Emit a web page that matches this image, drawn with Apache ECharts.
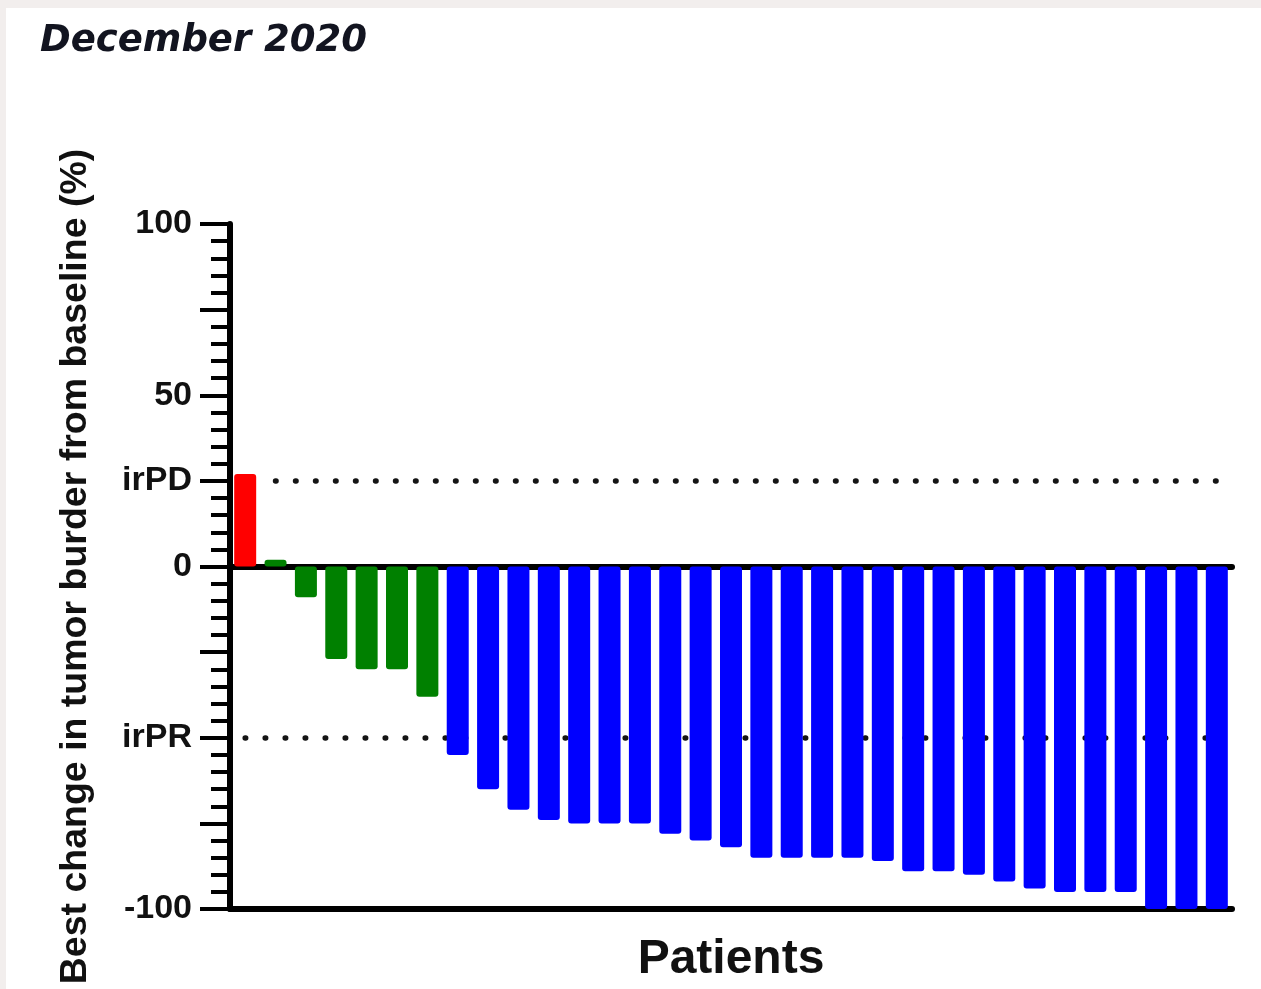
<!DOCTYPE html>
<html>
<head>
<meta charset="utf-8">
<script src="https://cdn.jsdelivr.net/npm/echarts@6/dist/echarts.min.js"></script>
<style>
  html, body { margin: 0; padding: 0; background: #f2eeed; }
  #paper { position: absolute; left: 6px; top: 8px; right: 0; bottom: 0; background: #ffffff; }
  #chart { position: absolute; left: 0; top: 0; width: 1261px; height: 989px; }
</style>
</head>
<body>
<div id="paper"></div>
<div id="chart"></div>
<script>
// Patients, ordered by best change in tumor burden
const patients = ['P1', 'P2', 'P3', 'P4', 'P5', 'P6', 'P7', 'P8', 'P9', 'P10', 'P11',
  'P12', 'P13', 'P14', 'P15', 'P16', 'P17', 'P18', 'P19', 'P20', 'P21', 'P22',
  'P23', 'P24', 'P25', 'P26', 'P27', 'P28', 'P29', 'P30', 'P31', 'P32', 'P33'];

// Best change from baseline (%), by response group
const progressionValues = [27];
const stableValues = [2, -9, -27, -30, -30, -38];
const responseValues = [-55, -65, -71, -74, -75, -75, -75, -78, -80, -82, -85, -85, -85,
  -85, -86, -89, -89, -90, -92, -94, -95, -95, -95, -100, -100, -100];

// Threshold levels (irRC)
const irPD = 25;
const irPR = -50;

// Y axis tick labels
const yTickLabels = { '100': '100', '50': '50', '25': 'irPD', '0': '0', '-50': 'irPR', '-100': '-100' };

const groupColors = ['#ff0000', '#008000', '#0000ff'];
const groups = [progressionValues, stableValues, responseValues];

const barData = [];
groups.forEach(function (vals, g) {
  vals.forEach(function (v) {
    barData.push({ value: v, itemStyle: { color: groupColors[g] } });
  });
});

const labelFont = 'Liberation Sans, Arial, sans-serif';
const black = '#000000';

const chart = echarts.init(document.getElementById('chart'), null, { renderer: 'canvas' });

chart.setOption({
  backgroundColor: 'transparent',
  animation: false,
  title: {
    text: 'December 2020',
    left: 35,
    top: 18,
    textStyle: {
      fontFamily: 'DejaVu Sans',
      fontStyle: 'italic',
      fontWeight: 'bold',
      fontSize: 37,
      color: '#121420'
    }
  },
  grid: { left: 230, top: 224, width: 1002, height: 686 },
  xAxis: [
    {
      type: 'category',
      data: patients,
      position: 'bottom',
      axisLine: { onZero: true, lineStyle: { color: black, width: 6 } },
      axisTick: { show: false },
      axisLabel: { show: false },
      splitLine: { show: false }
    },
    {
      type: 'category',
      data: patients,
      position: 'bottom',
      axisLine: { onZero: false, lineStyle: { color: black, width: 6 } },
      axisTick: { show: false },
      axisLabel: { show: false },
      splitLine: { show: false },
      name: 'Patients',
      nameLocation: 'middle',
      nameGap: 27,
      nameTextStyle: { fontFamily: labelFont, fontWeight: 'bold', fontSize: 48, color: '#111111' }
    }
  ],
  yAxis: {
    type: 'value',
    min: -100,
    max: 100,
    interval: 25,
    name: 'Best change in tumor burder from baseline (%)',
    nameLocation: 'middle',
    nameGap: 135,
    nameTextStyle: { fontFamily: labelFont, fontWeight: 'bold', fontSize: 37.5, color: '#111111' },
    axisLine: { show: true, onZero: false, lineStyle: { color: black, width: 6 } },
    axisTick: { show: true, length: 30, lineStyle: { color: black, width: 4 } },
    minorTick: { show: true, splitNumber: 5, length: 19, lineStyle: { color: black, width: 4 } },
    splitLine: { show: false },
    minorSplitLine: { show: false },
    axisLabel: {
      margin: 38,
      fontFamily: labelFont,
      fontWeight: 'bold',
      fontSize: 34,
      color: '#111111',
      formatter: function (v) {
        const key = String(v);
        return Object.prototype.hasOwnProperty.call(yTickLabels, key) ? yTickLabels[key] : '';
      }
    }
  },
  series: [
    {
      // dotted threshold lines, kept behind the bars
      type: 'line',
      data: [],
      z: 1,
      silent: true,
      markLine: {
        z: 1,
        silent: true,
        symbol: 'none',
        label: { show: false },
        lineStyle: { color: '#141414', width: 5.5, type: [0.5, 19.5], cap: 'round' },
        data: [
          [{ coord: [patients[1], irPD] }, { coord: [patients[patients.length - 1], irPD] }],
          [{ coord: [patients[0], irPR] }, { coord: [patients[patients.length - 1], irPR] }]
        ]
      }
    },
    {
      name: 'Best change',
      type: 'bar',
      xAxisIndex: 0,
      z: 3,
      barWidth: 22,
      data: barData,
      itemStyle: { borderRadius: 3 }
    }
  ]
});
</script>
</body>
</html>
